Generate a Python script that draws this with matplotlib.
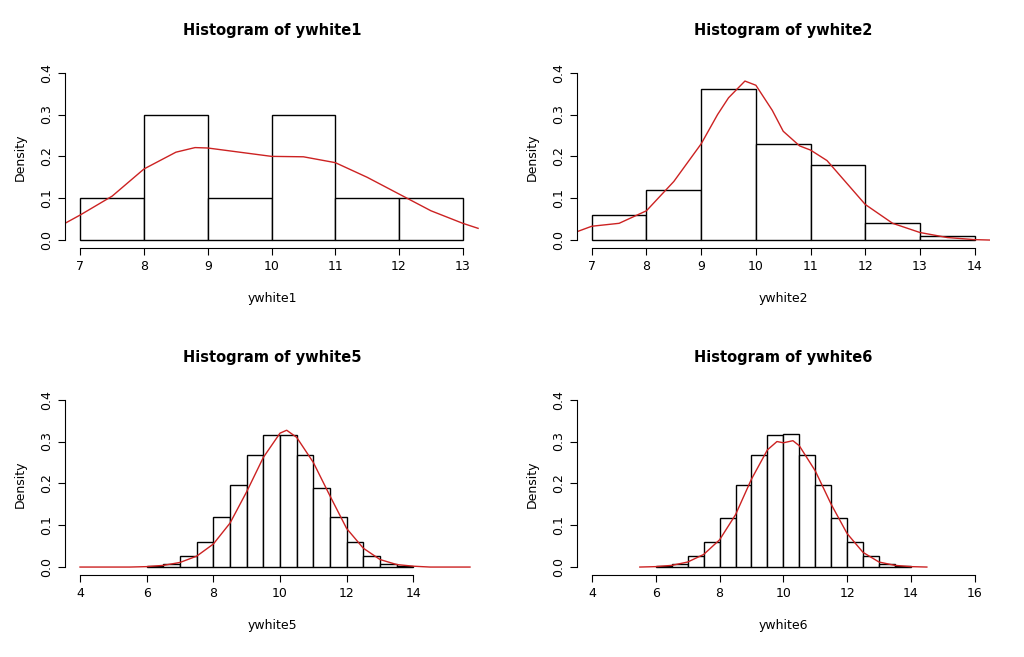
import matplotlib.pyplot as plt
import numpy as np

# histogram breaks and densities
breaks1 = [7, 8, 9, 10, 11, 12, 13]
dens1 = [0.1, 0.3, 0.1, 0.3, 0.1, 0.1]
kx1 = [6.76, 7.0, 7.5, 8.0, 8.5, 8.8, 9.0, 9.5, 10.0, 10.5, 11.0, 11.5, 12.0, 12.5, 13.0, 13.24]
ky1 = [0.04, 0.06, 0.105, 0.17, 0.21, 0.221, 0.22, 0.21, 0.20, 0.199, 0.185, 0.15, 0.11, 0.07, 0.04, 0.028]

breaks2 = [7, 8, 9, 10, 11, 12, 13, 14]
dens2 = [0.06, 0.12, 0.362, 0.23, 0.18, 0.04, 0.01]
kx2 = [6.73, 7.0, 7.5, 8.0, 8.5, 9.0, 9.3, 9.5, 9.8, 10.0, 10.3, 10.5, 10.8, 11.0, 11.3, 11.5, 12.0, 12.5, 13.0, 13.5, 14.0, 14.28]
ky2 = [0.02, 0.033, 0.04, 0.07, 0.14, 0.23, 0.3, 0.34, 0.38, 0.37, 0.31, 0.26, 0.225, 0.215, 0.19, 0.16, 0.085, 0.04, 0.018, 0.006, 0.001, 0.0]

breaks5 = list(np.arange(6, 14.01, 0.5))
dens5 = [0.002, 0.008, 0.026, 0.06, 0.12, 0.195, 0.267, 0.316,
         0.316, 0.268, 0.19, 0.12, 0.06, 0.026, 0.008, 0.002]
kx5 = [4.0, 5.5, 6.0, 6.5, 7.0, 7.5, 8.0, 8.5, 9.0, 9.5, 10.0, 10.2, 10.5, 11.0, 11.5, 12.0, 12.5, 13.0, 13.5, 14.0, 14.5, 15.7]
ky5 = [0.0, 0.0, 0.001, 0.004, 0.011, 0.026, 0.055, 0.105, 0.18, 0.262, 0.32, 0.327, 0.31, 0.25, 0.17, 0.092, 0.045, 0.018, 0.006, 0.002, 0.0, 0.0]

breaks6 = list(np.arange(6, 14.01, 0.5))
dens6 = [0.002, 0.008, 0.026, 0.06, 0.118, 0.195, 0.268, 0.316,
         0.318, 0.268, 0.195, 0.118, 0.06, 0.026, 0.008, 0.002]
kx6 = [5.5, 6.0, 6.5, 7.0, 7.5, 8.0, 8.5, 9.0, 9.5, 9.8, 10.0, 10.3, 10.5, 11.0, 11.5, 12.0, 12.5, 13.0, 13.5, 14.0, 14.5]
ky6 = [0.0, 0.001, 0.004, 0.012, 0.03, 0.065, 0.125, 0.21, 0.28, 0.30, 0.297, 0.302, 0.29, 0.23, 0.15, 0.08, 0.035, 0.012, 0.004, 0.001, 0.0]

panels = [
    ('ywhite1', breaks1, dens1, kx1, ky1, (6.76, 13.27), [7, 8, 9, 10, 11, 12, 13], [65, 415, 66, 248]),
    ('ywhite2', breaks2, dens2, kx2, ky2, (6.73, 14.28), [7, 8, 9, 10, 11, 12, 13, 14], [577, 413, 66, 248]),
    ('ywhite5', breaks5, dens5, kx5, ky5, (3.55, 16.0), [4, 6, 8, 10, 12, 14], [65, 415, 393, 575]),
    ('ywhite6', breaks6, dens6, kx6, ky6, (3.53, 16.48), [4, 6, 8, 10, 12, 14, 16], [577, 413, 393, 575]),
]

W, H = 1024, 657
fig = plt.figure(figsize=(W / 100, H / 100), dpi=100)
fig.patch.set_facecolor('white')

for name, br, dens, kx, ky, xlim, xticks, (l, w, top, bot) in panels:
    ax = fig.add_axes([l / W, (H - bot) / H, w / W, (bot - top) / H])
    widths = np.diff(br)
    ax.bar(br[:-1], dens, width=widths, align='edge', facecolor='white',
           edgecolor='black', linewidth=1.0)
    ax.plot(kx, ky, color='#cc2222', linewidth=1.0)
    ax.set_xlim(*xlim)
    ax.set_ylim(-0.019, 0.416)
    for s in ['top', 'right']:
        ax.spines[s].set_visible(False)
    ax.spines['left'].set_bounds(0, 0.4)
    ax.spines['bottom'].set_bounds(xticks[0], xticks[-1])
    ax.set_xticks(xticks)
    ax.set_yticks([0, 0.1, 0.2, 0.3, 0.4])
    ax.set_yticklabels(['0.0', '0.1', '0.2', '0.3', '0.4'], rotation=90, va='center')
    ax.tick_params(direction='out', length=5, labelsize=9)
    ax.set_title(f'Histogram of {name}', fontsize=10.5, fontweight='bold', pad=22)
    ax.set_xlabel(name, fontsize=9, labelpad=14)
    ax.set_ylabel('Density', fontsize=9, labelpad=10)

plt.savefig('out.png', dpi=100, facecolor='white')
